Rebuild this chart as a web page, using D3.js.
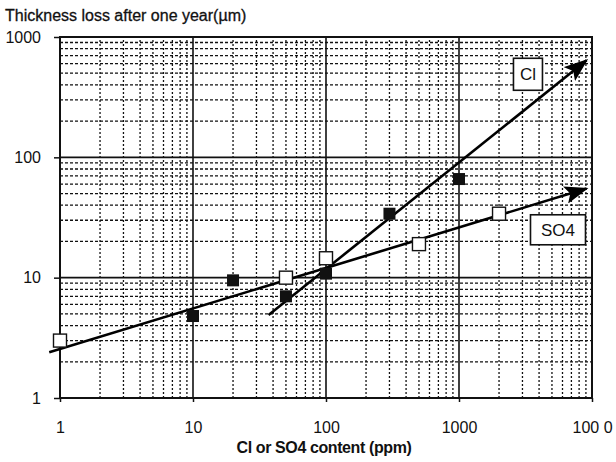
<!DOCTYPE html>
<html>
<head>
<meta charset="utf-8">
<script src="https://cdn.jsdelivr.net/npm/d3@7"></script>
<style>
  body { margin: 0; background: #fff; }
  text { font-family: "Liberation Sans", Arial, sans-serif; fill: #111; }
</style>
</head>
<body>
<script>
// values
const so4Points = [
    {x: 1, y: 3.0}, {x: 50, y: 10}, {x: 100, y: 14.5}, {x: 500, y: 19}, {x: 2000, y: 34}
];
const clPoints = [
    {x: 10, y: 4.8}, {x: 20, y: 9.5}, {x: 50, y: 7}, {x: 100, y: 10.8}, {x: 300, y: 34}, {x: 1000, y: 66}
];
// fitted trend lines (start, arrow tip)
const so4Fit = [{x: 0.83, y: 2.4}, {x: 9100, y: 55}];
const clFit = [{x: 37, y: 4.9}, {x: 9100, y: 640}];

const xTicks = [1, 10, 100, 1000, 10000];
const xTickLabels = ["1", "10", "100", "1000", "100 0"];
const yTicks = [1, 10, 100, 1000];
const yTickLabels = ["1", "10", "100", "1000"];

const W = 616, H = 462;
const svg = d3.select("body").append("svg")
    .attr("width", W)
    .attr("height", H);

var x = d3.scaleLog().domain([1, 10000]).range([60, 592]);
var y = d3.scaleLog().domain([1, 1000]).range([398, 37]);

// minor grid
const minorX = [], minorY = [];
for (let d = 1; d < 10000; d *= 10)
    for (let k = 2; k < 10; k++) minorX.push(d * k);
for (let d = 1; d < 1000; d *= 10)
    for (let k = 2; k < 10; k++) minorY.push(d * k);

const grid = svg.append("g").attr("class", "grid");
grid.selectAll("line.mx").data(minorX).enter()
    .append("line")
    .attr("x1", d => x(d)).attr("x2", d => x(d))
    .attr("y1", y(1)).attr("y2", y(1000))
    .attr("stroke", "#111").attr("stroke-width", 1.3)
    .attr("stroke-dasharray", "2,2");
grid.selectAll("line.my").data(minorY).enter()
    .append("line")
    .attr("y1", d => y(d)).attr("y2", d => y(d))
    .attr("x1", x(1)).attr("x2", x(10000))
    .attr("stroke", "#111").attr("stroke-width", 1.3)
    .attr("stroke-dasharray", "3,2");

// major grid
grid.selectAll("line.Mx").data(xTicks.slice(1, -1)).enter()
    .append("line")
    .attr("x1", d => x(d)).attr("x2", d => x(d))
    .attr("y1", y(1)).attr("y2", y(1000))
    .attr("stroke", "#111").attr("stroke-width", 1.6);
grid.selectAll("line.My").data(yTicks.slice(1, -1)).enter()
    .append("line")
    .attr("y1", d => y(d)).attr("y2", d => y(d))
    .attr("x1", x(1)).attr("x2", x(10000))
    .attr("stroke", "#111").attr("stroke-width", 1.6);

// frame
svg.append("rect")
    .attr("x", x(1)).attr("y", y(1000))
    .attr("width", x(10000) - x(1)).attr("height", y(1) - y(1000))
    .attr("fill", "none").attr("stroke", "#111").attr("stroke-width", 2);

// axes
var xAxis = d3.axisBottom(x).tickValues(xTicks).tickSize(4)
    .tickFormat((d, i) => xTickLabels[i]);
var yAxis = d3.axisLeft(y).tickValues(yTicks).tickSize(6)
    .tickFormat((d, i) => yTickLabels[i]);

const gx = svg.append("g")
    .attr("transform", "translate(0," + y(1) + ")")
    .call(xAxis);
gx.select(".domain").remove();
gx.selectAll("line").attr("stroke", "#111").attr("stroke-width", 1.5);
gx.selectAll("text")
    .attr("y", 24)
    .attr("font-size", 16)
    .attr("font-family", "Liberation Sans, Arial, sans-serif")
    .attr("fill", "#111");

const gy = svg.append("g")
    .attr("transform", "translate(" + x(1) + ",0)")
    .call(yAxis);
gy.select(".domain").remove();
gy.selectAll("line").attr("stroke", "#111").attr("stroke-width", 1.5);
gy.selectAll("text")
    .attr("x", -19)
    .attr("font-size", 16)
    .attr("font-family", "Liberation Sans, Arial, sans-serif")
    .attr("fill", "#111");

// titles
svg.append("text")
    .attr("x", 5).attr("y", 21)
    .attr("font-size", 16)
    .attr("stroke", "#111").attr("stroke-width", 0.3)
    .text("Thickness loss after one year(\u00b5m)");

svg.append("text")
    .attr("x", (x(1) + x(10000)) / 2 - 2).attr("y", 453)
    .attr("text-anchor", "middle")
    .attr("font-size", 16)
    .attr("font-weight", "bold")
    .attr("letter-spacing", -0.4)
    .text("Cl or SO4 content (ppm)");

// arrow marker
svg.append("defs").append("marker")
    .attr("id", "arrow")
    .attr("viewBox", "0 0 24 18")
    .attr("refX", 22).attr("refY", 9)
    .attr("markerWidth", 24).attr("markerHeight", 18)
    .attr("markerUnits", "userSpaceOnUse")
    .attr("orient", "auto")
    .append("path")
    .attr("d", "M0,0 L24,9 L0,18 L5,9 z")
    .attr("fill", "#000");

const line = d3.line().x(d => x(d.x)).y(d => y(d.y));

[so4Fit, clFit].forEach(fit => {
    svg.append("path")
        .datum(fit)
        .attr("d", line)
        .attr("fill", "none")
        .attr("stroke", "#000")
        .attr("stroke-width", 2.6)
        .attr("marker-end", "url(#arrow)");
});

// points
svg.selectAll("rect.so4").data(so4Points).enter()
    .append("rect")
    .attr("class", "so4")
    .attr("x", d => x(d.x) - 6.5).attr("y", d => y(d.y) - 6.5)
    .attr("width", 13).attr("height", 13)
    .attr("fill", "#fff").attr("stroke", "#111").attr("stroke-width", 1.4);

svg.selectAll("rect.cl").data(clPoints).enter()
    .append("rect")
    .attr("class", "cl")
    .attr("x", d => x(d.x) - 6).attr("y", d => y(d.y) - 6)
    .attr("width", 12).attr("height", 12)
    .attr("fill", "#111");

// line labels
function boxLabel(cx, cy, w, h, txt) {
    const g = svg.append("g");
    g.append("rect")
        .attr("x", cx - w / 2).attr("y", cy - h / 2)
        .attr("width", w).attr("height", h)
        .attr("fill", "#fff").attr("stroke", "#111").attr("stroke-width", 1.6);
    g.append("text")
        .attr("x", cx).attr("y", cy + 6)
        .attr("text-anchor", "middle")
        .attr("font-size", 17)
        .text(txt);
}
boxLabel(x(3300), y(490), 29, 32, "Cl");
boxLabel(x(5550), y(25), 55, 30, "SO4");
</script>
</body>
</html>
